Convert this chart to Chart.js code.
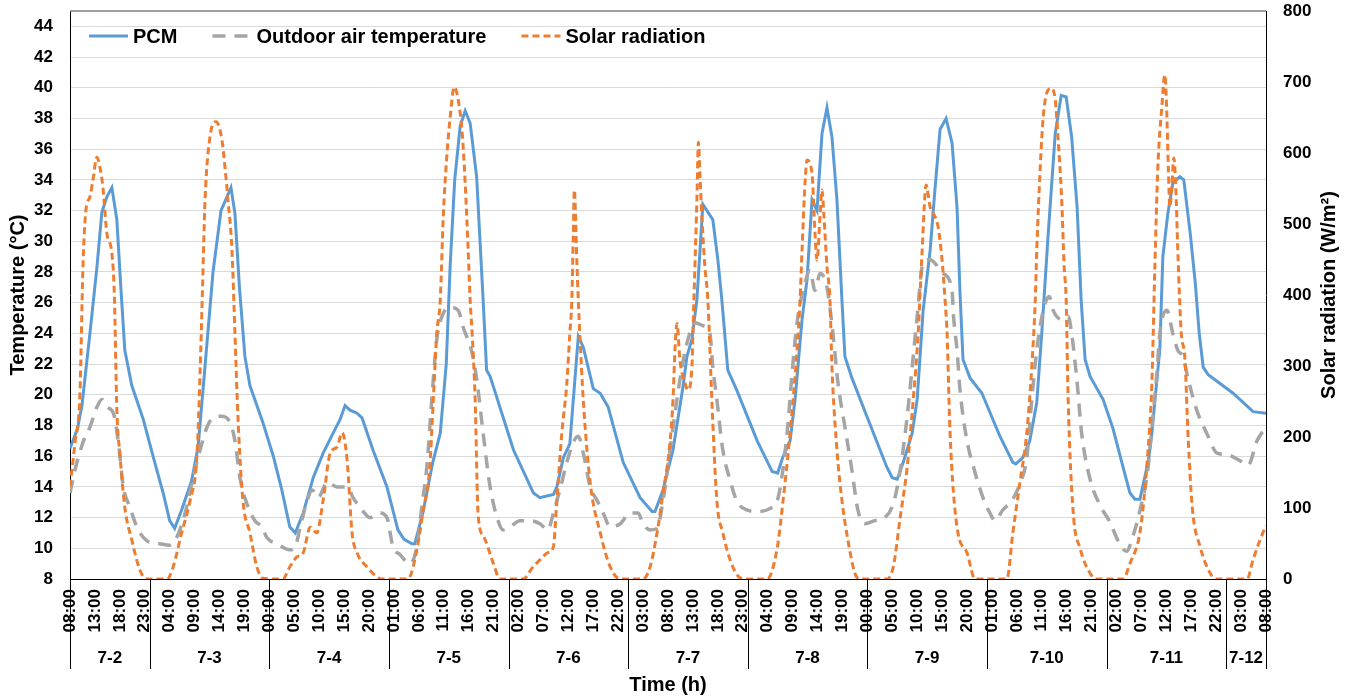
<!DOCTYPE html>
<html>
<head>
<meta charset="utf-8">
<script src="https://cdn.jsdelivr.net/npm/chart.js@4.4.1/dist/chart.umd.min.js"></script>
<style>
  html, body { margin: 0; padding: 0; background: #fff; }
  #wrap { width: 1354px; height: 699px; position: relative; }
</style>
</head>
<body>
<div id="wrap"><canvas id="chart"></canvas></div>
<script>
// x axis: hours since 7-2 08:00
const hourTicks = [
  "08:00", "13:00", "18:00", "23:00", "04:00", "09:00", "14:00", "19:00",
  "00:00", "05:00", "10:00", "15:00", "20:00", "01:00", "06:00", "11:00",
  "16:00", "21:00", "02:00", "07:00", "12:00", "17:00", "22:00", "03:00",
  "08:00", "13:00", "18:00", "23:00", "04:00", "09:00", "14:00", "19:00",
  "00:00", "05:00", "10:00", "15:00", "20:00", "01:00", "06:00", "11:00",
  "16:00", "21:00", "02:00", "07:00", "12:00", "17:00", "22:00", "03:00", "08:00"
];
const dayLabels = ["7-2", "7-3", "7-4", "7-5", "7-6", "7-7", "7-8", "7-9", "7-10", "7-11", "7-12"];
const dayStarts = [0, 16, 40, 64, 88, 112, 136, 160, 184, 208, 232, 240];

// PCM temperature (°C)
const pcmHours = [0, 1.5, 2.4, 4, 5.4, 6.4, 7.4, 8.4, 9.4, 10.2, 11, 12.4, 14.7, 17, 18.7, 20, 21, 22.4, 24.4, 25.7,
  27, 28.7, 30.3, 31.5, 32.3, 33.1, 34, 35.1, 36.1, 38.7, 40.8, 42.5, 44.1, 45.2, 46.8, 48.8, 50.8, 52.8, 54.2, 55.2,
  56.2, 57.6, 58.6, 60.8, 63.6, 65.8, 67, 68.6, 69.2, 70.8, 72.8, 74.3, 75.5, 76.3, 77.2, 78.3, 79.3, 80.3, 81.6, 82.9,
  83.6, 84.3, 89, 93, 94.3, 97, 97.7, 99, 100.3, 102, 103, 105, 106.4, 108, 111, 114.4, 116.8, 117.4, 119, 121,
  123, 123.8, 124.8, 125.8, 127, 129, 130, 130.8, 132, 133.8, 137.9, 140.9, 142, 143, 144.5, 145.5, 146.9, 147.9, 148.9, 149.9,
  150.9, 151.9, 152.9, 153.9, 154.9, 155.5, 156.9, 159.9, 163.9, 165, 166, 167.2, 169, 170, 171.2, 172.6, 173.6, 174.6, 175.8, 177,
  178, 178.6, 179.2, 180.6, 183, 186.6, 189.2, 189.8, 191.2, 192.6, 194, 195, 196.3, 197.7, 198.9, 199.9, 201, 202.1, 202.9, 203.7,
  204.7, 207.3, 209.3, 211.3, 212.7, 213.7, 214.7, 216.4, 217.1, 218.7, 219.3, 220.3, 221.3, 222.7, 223.5, 224.8, 225.8, 226.6, 227.4, 228.4,
  233.4, 237.4, 240];
const pcmTemp = [16.5, 17.8, 19.3, 24, 28.3, 31.9, 32.9, 33.5, 31.4, 27, 22.9, 20.6, 18.4, 15.6, 13.6, 11.8, 11.3, 12.5, 14.4, 16.6,
  21.5, 28, 32, 32.9, 33.5, 31.8, 27, 22.5, 20.6, 18.2, 16, 13.8, 11.4, 11, 12.3, 14.6, 16.2, 17.5, 18.4, 19.3,
  19, 18.8, 18.5, 16.4, 14, 11.2, 10.6, 10.3, 10.3, 12.3, 15.6, 17.5, 22, 28.5, 34, 37.5, 38.5, 37.7, 34.2, 26.2,
  21.6, 21.2, 16.4, 13.6, 13.3, 13.5, 14, 15.9, 16.8, 23.8, 23.1, 20.4, 20.1, 19.2, 15.6, 13.3, 12.4, 12.4, 13.8, 16.4,
  20.5, 22.5, 23.6, 26.2, 32.4, 31.4, 28.8, 26.2, 21.6, 20.3, 17, 15, 14.9, 15.9, 17, 19.7, 24.9, 27.5, 32.7, 32,
  37, 38.7, 36.8, 32.7, 26.2, 22.5, 21.1, 18.6, 15.3, 14.6, 14.5, 15.6, 17.5, 19.7, 25.5, 29.4, 33.5, 37.3, 38, 36.4,
  32.2, 26.6, 22.3, 21.1, 20.1, 17.3, 15.6, 15.5, 15.9, 17, 19.5, 24, 30.5, 37, 39.5, 39.4, 36.8, 32.2, 26.2, 22.3,
  21.2, 19.7, 17.8, 15.3, 13.6, 13.2, 13.2, 15.7, 17.5, 23, 29, 31.8, 33.8, 34.2, 34, 30.5, 27.3, 24, 21.8, 21.3,
  20.1, 18.9, 18.8];

// Outdoor air temperature (°C)
const outdoorHours = [0, 1, 2.6, 4, 5.4, 6.4, 7.4, 8.7, 9.7, 10.7, 12, 13.4, 15.4, 18, 20, 21.4, 23.1, 24.7, 26.1, 27.5,
  28.7, 30.4, 32.1, 33.1, 34.1, 35.5, 37.1, 38.5, 39.5, 41.5, 44.1, 45.2, 46.2, 47.6, 48.6, 49.8, 51.6, 53.6, 55.6, 56.8,
  58.6, 60.2, 62.2, 63.6, 64.8, 66.2, 68.2, 69.6, 70.6, 71.6, 72.6, 73.6, 74.9, 76.3, 77.9, 78.9, 80.7, 81.7, 82.9, 84.3,
  85.7, 86.9, 88.3, 90.3, 92.3, 94.3, 95.9, 97, 98.3, 99.7, 101, 102, 103, 104.4, 105.8, 107, 108.4, 110.4, 112.4, 114,
  115, 116.4, 117.8, 119, 120.4, 121.8, 122.8, 124, 125.4, 127, 128.4, 129, 129.8, 131, 132.4, 133.8, 135.8, 137.9, 140.5, 142.1,
  143.9, 145, 145.9, 147.5, 148.5, 149.5, 150.5, 151.9, 153.1, 154.1, 155.5, 156.9, 158.1, 159.5, 161.5, 163.5, 165.2, 166.6, 168, 169,
  170, 171.2, 172.6, 175.2, 177, 177.3, 178, 178.6, 180, 181.3, 183.2, 184.6, 185.6, 187.2, 189, 190.6, 192, 193, 194, 195.3,
  196.5, 197.3, 199, 200.3, 201, 202.1, 203, 204.7, 206.7, 208.7, 210.3, 212, 213.4, 214.8, 216.2, 217.2, 218.1, 218.7, 220.1, 221.3,
  222.3, 223.3, 224.4, 226.1, 228.1, 230.2, 232.2, 234.8, 236.4, 238.2, 240];
const outdoorTemp = [13.6, 15.1, 16.9, 17.9, 19.2, 19.7, 19.2, 18.8, 16.9, 14, 12.7, 11.4, 10.5, 10.3, 10.2, 10.7, 12.3, 14.6, 16.4, 17.9,
  18.5, 18.6, 18.2, 17, 14.6, 12.9, 11.8, 11.4, 10.7, 10.3, 9.9, 10.1, 11.4, 13.1, 13.8, 13.3, 14.3, 14, 14, 13.3,
  12.5, 12, 12.3, 12, 10.1, 9.6, 9, 10.1, 12.7, 15.3, 19.7, 23.6, 25.3, 25.7, 25.5, 24.4, 22.7, 20.8, 17.5, 14,
  12, 11.2, 11.4, 11.8, 11.8, 11.6, 11.2, 12.3, 13.8, 15.6, 16.9, 17.3, 16.2, 14, 13.1, 12.3, 11.4, 11.6, 12.3, 12.3,
  11.6, 11.2, 11.3, 13.1, 16.4, 19.7, 21.8, 23.6, 24.7, 24.5, 24, 21.8, 19.7, 16.4, 14.5, 13.1, 12.5, 12.4, 12.6, 13.3,
  17.5, 21.8, 24.7, 27.3, 28.1, 26.8, 27.9, 27, 24, 20.8, 17.9, 15.1, 12.5, 11.6, 11.8, 12, 12.9, 15.1, 18.6, 21.8,
  25.1, 28.6, 28.8, 27.9, 26.8, 25.1, 22.9, 20.3, 17, 15.3, 13.3, 12.3, 11.8, 12.5, 13.1, 14.2, 15.9, 19.7, 22.9, 25.5,
  26.4, 25.5, 24.9, 25.1, 24, 20.8, 17.5, 14.5, 12.8, 11.7, 10.5, 9.8, 10.9, 12.6, 14.9, 18.2, 21.4, 24, 25.5, 24,
  22.9, 22.5, 21, 19, 17.5, 16.2, 16.1, 15.7, 15.4, 17, 17.9];

// Solar radiation (W/m²)
const solarHours = [0, 1, 2, 2.6, 3.2, 4, 4.6, 5.4, 6, 6.6, 7.4, 8.4, 8.9, 9.4, 10, 11, 12.4, 14, 15.4, 19.5,
  20.7, 22.4, 24.1, 25.5, 26.1, 26.6, 27.1, 28.1, 29.3, 30.5, 31.1, 31.7, 32.5, 33.1, 33.7, 34.7, 36.1, 37.5, 38.7, 42.7,
  44.1, 45.5, 46.8, 48.2, 49.5, 50.8, 52.2, 53.6, 54.6, 55.6, 56.6, 57.6, 59.6, 61.6, 62.5, 67.5, 68.2, 69.6, 70.8, 72.2,
  72.9, 73.6, 74.3, 74.9, 75.6, 76.3, 77.1, 77.9, 78.7, 79.3, 79.9, 80.3, 80.7, 81.3, 81.9, 83, 84.9, 86.3, 90.9, 92.9,
  94.3, 95.9, 97, 97.7, 98.7, 99.7, 100.3, 100.7, 101, 101.2, 101.7, 102, 102.3, 103, 104.4, 106.4, 108.4, 110.4, 115, 116.4,
  117.8, 119, 120.4, 121, 121.4, 121.8, 122.4, 123.4, 124, 124.8, 125, 125.4, 125.8, 126.1, 126.4, 126.8, 127.4, 128, 128.8, 129.8,
  131, 133, 135, 139.9, 141.9, 143.1, 144.5, 145.9, 146.5, 146.9, 147.5, 147.9, 148.9, 149.5, 149.9, 150.5, 150.9, 151.3, 151.9, 152.5,
  152.9, 153.9, 154.9, 156.1, 157.5, 158.5, 163.9, 165.2, 166.6, 168, 169.2, 170.2, 171, 171.8, 172.6, 173.6, 174.2, 175, 175.6, 176,
  176.6, 178, 180, 181.6, 188, 189.2, 190.6, 192, 193, 193.7, 194, 194.7, 195.3, 196.3, 197, 197.7, 198.3, 199, 199.5, 199.9,
  200.3, 201.3, 202.7, 204.7, 206, 211.3, 212.7, 214.8, 216.2, 217.1, 217.7, 218.3, 219.1, 219.7, 220, 220.4, 220.7, 221.1, 221.5, 221.9,
  222.3, 223, 223.7, 224.4, 225.2, 226.8, 228.8, 230.2, 236.2, 237.4, 238.8, 240];
const solarValues = [130, 192, 262, 440, 520, 538, 562, 594, 580, 552, 487, 459, 400, 238, 177, 101, 55, 13, 0, 0,
  17, 65, 111, 177, 290, 411, 534, 623, 644, 618, 580, 534, 463, 346, 228, 111, 65, 17, 1, 0,
  17, 31, 37, 73, 65, 111, 177, 186, 206, 168, 65, 37, 17, 3, 0, 0, 3, 41, 93, 158,
  252, 346, 393, 510, 594, 651, 693, 675, 628, 558, 463, 393, 346, 252, 90, 60, 23, 0, 0, 17,
  27, 37, 45, 111, 206, 276, 346, 393, 487, 548, 449, 393, 346, 252, 135, 65, 17, 0, 0, 17,
  65, 121, 192, 252, 323, 360, 308, 276, 266, 299, 346, 440, 534, 615, 571, 510, 440, 393, 252, 111,
  65, 17, 0, 0, 43, 111, 206, 323, 393, 463, 558, 590, 571, 487, 449, 510, 548, 510, 440, 393,
  299, 182, 111, 55, 8, 0, 0, 17, 87, 158, 252, 346, 463, 555, 524, 510, 496, 449, 393, 346,
  206, 73, 37, 0, 0, 65, 135, 206, 299, 393, 463, 580, 651, 689, 691, 675, 618, 534, 440, 393,
  252, 95, 43, 8, 0, 0, 22, 70, 170, 276, 440, 580, 665, 710, 675, 580, 524, 552, 593, 552,
  463, 346, 313, 196, 101, 45, 8, 0, 0, 27, 55, 75];

const toPoints = (xs, ys) => xs.map((x, i) => ({ x, y: ys[i] }));

const FONT = "'Liberation Sans', Arial, sans-serif";
Chart.defaults.font.family = FONT;
Chart.defaults.font.weight = "bold";
Chart.defaults.color = "#000";

// fixed axis sizes so the plot area sits where the original has it
const fixBox = (w, h) => (s) => {
  if (w) s.width = w;
  if (h) s.height = h;
  s.paddingTop = 0;
  s.paddingBottom = 0;
  s.paddingLeft = 0;
  s.paddingRight = 0;
};

// legend, day bands under the x axis, right axis title and top frame line
const decor = {
  id: "decor",
  afterDraw(chart) {
    const { ctx, chartArea: area, scales } = chart;
    const xs = scales.x;
    ctx.save();

    ctx.strokeStyle = "#7f7f7f";
    ctx.lineWidth = 1.5;
    ctx.beginPath();
    ctx.moveTo(area.left, area.top);
    ctx.lineTo(area.right, area.top);
    ctx.stroke();

    ctx.strokeStyle = "#000";
    ctx.lineWidth = 1;
    dayStarts.forEach((h) => {
      const px = Math.round(xs.getPixelForValue(h)) + 0.5;
      ctx.beginPath();
      ctx.moveTo(px, area.bottom);
      ctx.lineTo(px, area.bottom + 90);
      ctx.stroke();
    });
    ctx.fillStyle = "#000";
    ctx.font = "bold 17px " + FONT;
    ctx.textAlign = "center";
    ctx.textBaseline = "middle";
    dayLabels.forEach((lbl, i) => {
      const mid = (xs.getPixelForValue(dayStarts[i]) + xs.getPixelForValue(dayStarts[i + 1])) / 2;
      ctx.fillText(lbl, mid, area.bottom + 79);
    });

    ctx.font = "bold 20px " + FONT;
    ctx.save();
    ctx.translate(1329, (area.top + area.bottom) / 2);
    ctx.rotate(-Math.PI / 2);
    ctx.fillText("Solar radiation (W/m²)", 0, 0);
    ctx.restore();

    // legend
    let x = area.left + 19;
    const y = area.top + 25;
    ctx.textAlign = "left";
    chart.data.datasets.forEach((ds) => {
      ctx.strokeStyle = ds.borderColor;
      ctx.lineWidth = ds.borderWidth;
      ctx.setLineDash(ds.borderDash || []);
      ctx.beginPath();
      ctx.moveTo(x, y);
      ctx.lineTo(x + 39, y);
      ctx.stroke();
      ctx.setLineDash([]);
      ctx.fillStyle = "#000";
      ctx.fillText(ds.label, x + 44, y + 1);
      x += 44 + ctx.measureText(ds.label).width + 35;
    });
    ctx.restore();
  },
};

new Chart(document.getElementById("chart"), {
  type: "line",
  data: {
    datasets: [
      {
        label: "PCM",
        data: toPoints(pcmHours, pcmTemp),
        borderColor: "#5B9BD5",
        borderWidth: 3,
        pointRadius: 0,
        tension: 0,
        yAxisID: "y",
        order: 2,
      },
      {
        label: "Outdoor air temperature",
        data: toPoints(outdoorHours, outdoorTemp),
        borderColor: "#A5A5A5",
        borderWidth: 3.5,
        borderDash: [13, 9],
        pointRadius: 0,
        cubicInterpolationMode: "monotone",
        yAxisID: "y",
        order: 1,
      },
      {
        label: "Solar radiation",
        data: toPoints(solarHours, solarValues),
        borderColor: "#ED7D31",
        borderWidth: 3,
        borderDash: [7, 4],
        pointRadius: 0,
        cubicInterpolationMode: "monotone",
        yAxisID: "y1",
        order: 0,
      },
    ],
  },
  options: {
    responsive: true,
    maintainAspectRatio: false,
    animation: false,
    layout: { padding: { top: 11, left: 0, right: 0, bottom: 0 } },
    plugins: { legend: { display: false }, tooltip: { enabled: false } },
    scales: {
      x: {
        type: "linear",
        min: 0,
        max: 240,
        afterFit: fixBox(0, 120),
        ticks: {
          stepSize: 5,
          autoSkip: false,
          maxRotation: 90,
          minRotation: 90,
          padding: 10,
          font: { size: 17, weight: "bold" },
          callback: (v) => hourTicks[Math.round(v / 5)],
        },
        grid: { display: false, drawTicks: false },
        border: { display: true, color: "#000", width: 1 },
        title: {
          display: true,
          text: "Time (h)",
          font: { size: 20, weight: "bold" },
          padding: { top: 0, bottom: 2 },
        },
      },
      y: {
        position: "left",
        min: 8,
        max: 45,
        afterFit: fixBox(70, 0),
        ticks: {
          stepSize: 2,
          includeBounds: false,
          padding: 17,
          font: { size: 17, weight: "bold" },
        },
        grid: { color: "#D9D9D9", lineWidth: 1, drawTicks: false },
        border: { display: true, color: "#000", width: 1 },
        title: {
          display: true,
          text: "Temperature (°C)",
          font: { size: 20, weight: "bold" },
          padding: { top: 6, bottom: 0 },
        },
      },
      y1: {
        position: "right",
        min: 0,
        max: 800,
        afterFit: fixBox(88, 0),
        ticks: {
          stepSize: 100,
          padding: 17,
          font: { size: 17, weight: "bold" },
        },
        grid: { display: false, drawTicks: false },
        border: { display: true, color: "#000", width: 1 },
      },
    },
  },
  plugins: [decor],
});
</script>
</body>
</html>
